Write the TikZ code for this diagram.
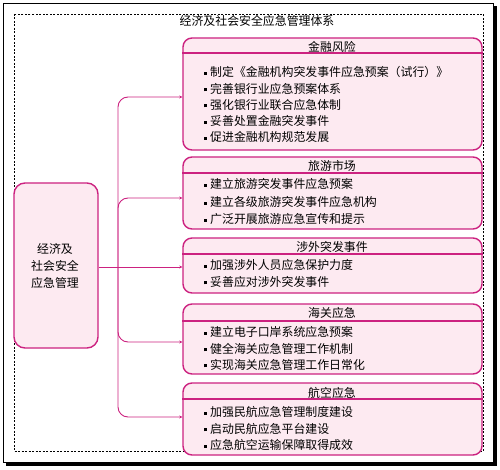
\documentclass[tikz,border=0pt]{standalone}
\usepackage{fontspec}
\setmainfont{Noto Sans CJK SC}
\usetikzlibrary{arrows.meta}
\definecolor{mag}{HTML}{CC2280}
\definecolor{pinkfill}{HTML}{FDEAF1}
\begin{document}
\begin{tikzpicture}[x=1pt,y=-1pt,
  every node/.style={font=\fontsize{11.9}{13}\selectfont, inner sep=0pt},
  catbox/.style={draw=mag, fill=pinkfill, line width=1.4pt, rounded corners=9pt, minimum width=299pt},
  sepline/.style={draw=mag, line width=1.3pt},
  item/.style={anchor=west},
  link/.style={draw=mag, line width=0.9pt, rounded corners=10pt, -{Stealth[length=3pt,width=3pt]}}
]
\useasboundingbox (0,0) rectangle (500,470);
% outer frame with shadow
\fill[black] (6,6) rectangle (497,466);
\draw[black, fill=white, line width=0.8pt] (3,3) rectangle (493.5,462.5);
\draw[black, line width=0.6pt, dash pattern=on 2pt off 1.5pt] (14,14) rectangle (483,451);
\node (title) at (257,20.5) {经济及社会安全应急管理体系};

\newcommand{\bu}{\rule[0.25ex]{3pt}{3pt}\hspace{3pt}}

% left box
\node[catbox, minimum width=84pt, minimum height=165pt, rounded corners=11pt] (lb) at (56,265.5) {};
\node[align=center, font=\fontsize{11.9}{17}\selectfont] (lbt) at (55,266) {经济及\\社会安全\\应急管理};

% box 1
\node[catbox, minimum height=112pt] (b1) at (332.5,94) {};
\draw[sepline] (b1.west |- 0,53) -- (b1.east |- 0,53);
\node (b1t) at (332,47) {金融风险};
\node[item] (b1a) at (204,72) {\bu 制定《金融机构突发事件应急预案（试行）》};
\node[item] (b1b) at (204,88.5) {\bu 完善银行业应急预案体系};
\node[item] (b1c) at (204,104.5) {\bu 强化银行业联合应急体制};
\node[item] (b1d) at (204,121) {\bu 妥善处置金融突发事件};
\node[item] (b1e) at (204,137) {\bu 促进金融机构规范发展};

% box 2
\node[catbox, minimum height=72pt] (b2) at (332.5,193) {};
\draw[sepline] (b2.west |- 0,173) -- (b2.east |- 0,173);
\node (b2t) at (332,165.5) {旅游市场};
\node[item] (b2a) at (204,184) {\bu 建立旅游突发事件应急预案};
\node[item] (b2b) at (204,202) {\bu 建立各级旅游突发事件应急机构};
\node[item] (b2c) at (204,219) {\bu 广泛开展旅游应急宣传和提示};

% box 3
\node[catbox, minimum height=55pt] (b3) at (332.5,265.5) {};
\draw[sepline] (b3.west |- 0,254) -- (b3.east |- 0,254);
\node (b3t) at (332,246.5) {涉外突发事件};
\node[item] (b3a) at (204,265) {\bu 加强涉外人员应急保护力度};
\node[item] (b3b) at (204,281.5) {\bu 妥善应对涉外突发事件};

% box 4
\node[catbox, minimum height=70pt] (b4) at (332.5,339) {};
\draw[sepline] (b4.west |- 0,321) -- (b4.east |- 0,321);
\node (b4t) at (332,313) {海关应急};
\node[item] (b4a) at (204,332) {\bu 建立电子口岸系统应急预案};
\node[item] (b4b) at (204,348.5) {\bu 健全海关应急管理工作机制};
\node[item] (b4c) at (204,364.5) {\bu 实现海关应急管理工作日常化};

% box 5
\node[catbox, minimum height=72pt] (b5) at (332.5,419) {};
\draw[sepline] (b5.west |- 0,399) -- (b5.east |- 0,399);
\node (b5t) at (332,392.5) {航空应急};
\node[item] (b5a) at (204,412) {\bu 加强民航应急管理制度建设};
\node[item] (b5b) at (204,428.5) {\bu 启动民航应急平台建设};
\node[item] (b5c) at (204,445) {\bu 应急航空运输保障取得成效};

% connectors
\coordinate (tr) at (118,267);
\draw[link] (lb.east |- 0,267) -- (b3.west |- 0,267);
\draw[link] (tr) |- (b1.west |- 0,97);
\draw[link] (tr) |- (b2.west |- 0,198);
\draw[link] (tr) |- (b4.west |- 0,342);
\draw[link] (tr) |- (b5.west |- 0,417);
\end{tikzpicture}
\end{document}
